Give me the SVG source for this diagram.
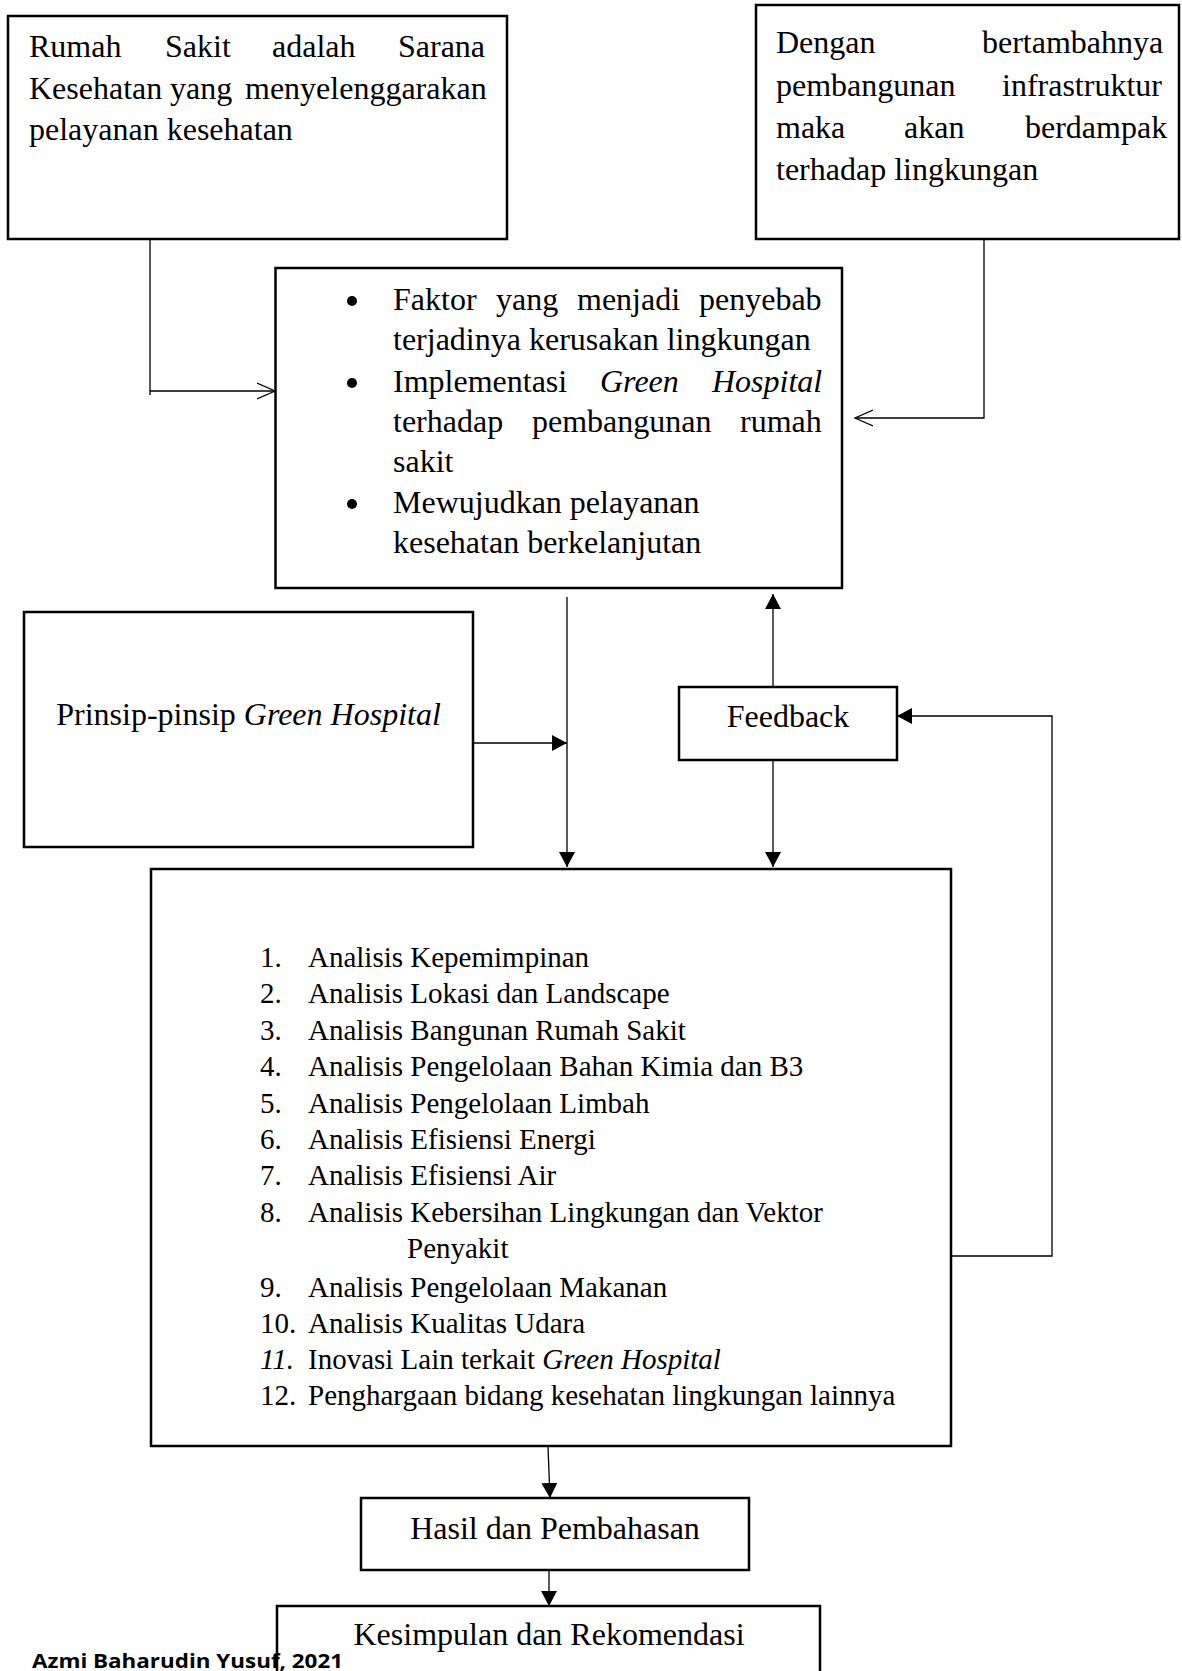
<svg xmlns="http://www.w3.org/2000/svg" width="1182" height="1671" viewBox="0 0 1182 1671">
<style>
.box{fill:#fff;stroke:#000;stroke-width:2.5}
.t{font-family:"Times New Roman","Liberation Serif",Tinos,serif;font-size:32px;fill:#000}
.l{font-family:"Times New Roman","Liberation Serif",Tinos,serif;font-size:29px;fill:#000}
.i{font-style:italic}
.c{text-anchor:middle}
.con{fill:none;stroke:#000;stroke-width:1.3}
.ft{font-family:"Open Sans","Noto Sans",sans-serif;font-weight:bold;font-size:20px;fill:#000}
</style>
<defs>
<marker id="fa" markerUnits="userSpaceOnUse" markerWidth="16" markerHeight="16" refX="15" refY="8" orient="auto">
<path d="M0,0 L15,8 L0,16 Z" fill="#000"/>
</marker>
<marker id="oa" markerUnits="userSpaceOnUse" markerWidth="20" markerHeight="20" refX="18" refY="9" orient="auto">
<path d="M0,1 L18,9 L0,17" fill="none" stroke="#000" stroke-width="1.3"/>
</marker>
</defs>

<g id="connectors">
<path class="con" d="M150,239 V395"/>
<path class="con" d="M150,391 H275" marker-end="url(#oa)"/>
<path class="con" d="M984,239 V418 H855" marker-end="url(#oa)"/>
<path class="con" d="M567,597 V867" marker-end="url(#fa)"/>
<path class="con" d="M473,743 H567" marker-end="url(#fa)"/>
<path class="con" d="M773,687 V594" marker-end="url(#fa)"/>
<path class="con" d="M773,760 V867" marker-end="url(#fa)"/>
<path class="con" d="M951,1256 H1052 V716 H897" marker-end="url(#fa)"/>
<path class="con" d="M548,1447 L550,1498" marker-end="url(#fa)"/>
<path class="con" d="M549,1571 V1606" marker-end="url(#fa)"/>
</g>

<g id="node-rumah-sakit">
<rect class="box" x="8" y="16" width="499" height="223"/>
<text class="t" y="57"><tspan x="29">Rumah</tspan><tspan x="165">Sakit</tspan><tspan x="272">adalah</tspan><tspan x="398">Sarana</tspan></text>
<text class="t" y="99"><tspan x="29">Kesehatan</tspan><tspan x="170">yang</tspan><tspan x="245">menyelenggarakan</tspan></text>
<text class="t" x="29" y="140">pelayanan kesehatan</text>
</g>

<g id="node-infrastruktur">
<rect class="box" x="756" y="5" width="423" height="234"/>
<text class="t" y="53"><tspan x="776">Dengan</tspan><tspan x="982">bertambahnya</tspan></text>
<text class="t" y="96"><tspan x="776">pembangunan</tspan><tspan x="1002">infrastruktur</tspan></text>
<text class="t" y="138"><tspan x="776">maka</tspan><tspan x="904">akan</tspan><tspan x="1025">berdampak</tspan></text>
<text class="t" x="776" y="180">terhadap lingkungan</text>
</g>

<g id="node-tujuan">
<rect class="box" x="275.5" y="268" width="566.5" height="320"/>
<circle cx="352" cy="301" r="5"/>
<circle cx="352" cy="383" r="5"/>
<circle cx="352" cy="504" r="5"/>
<text class="t" y="310"><tspan x="393">Faktor</tspan><tspan x="496">yang</tspan><tspan x="577">menjadi</tspan><tspan x="699">penyebab</tspan></text>
<text class="t" x="393" y="350">terjadinya kerusakan lingkungan</text>
<text class="t" y="392"><tspan x="393">Implementasi</tspan><tspan class="i" x="600">Green</tspan><tspan class="i" x="712">Hospital</tspan></text>
<text class="t" y="432"><tspan x="393">terhadap</tspan><tspan x="532">pembangunan</tspan><tspan x="740">rumah</tspan></text>
<text class="t" x="393" y="472">sakit</text>
<text class="t" x="393" y="513">Mewujudkan pelayanan</text>
<text class="t" x="393" y="553">kesehatan berkelanjutan</text>
</g>

<g id="node-prinsip">
<rect class="box" x="24" y="612" width="449" height="235"/>
<text class="t c" x="248.5" y="725">Prinsip-pinsip <tspan class="i">Green Hospital</tspan></text>
</g>

<g id="node-feedback">
<rect class="box" x="679" y="687" width="218" height="73"/>
<text class="t c" x="788" y="727">Feedback</text>
</g>

<g id="node-analisis">
<rect class="box" x="151" y="869" width="800" height="577"/>
<text class="l" x="260" y="967">1.</text><text class="l" x="308" y="967">Analisis Kepemimpinan</text>
<text class="l" x="260" y="1003">2.</text><text class="l" x="308" y="1003">Analisis Lokasi dan Landscape</text>
<text class="l" x="260" y="1040">3.</text><text class="l" x="308" y="1040">Analisis Bangunan Rumah Sakit</text>
<text class="l" x="260" y="1076">4.</text><text class="l" x="308" y="1076">Analisis Pengelolaan Bahan Kimia dan B3</text>
<text class="l" x="260" y="1113">5.</text><text class="l" x="308" y="1113">Analisis Pengelolaan Limbah</text>
<text class="l" x="260" y="1149">6.</text><text class="l" x="308" y="1149">Analisis Efisiensi Energi</text>
<text class="l" x="260" y="1185">7.</text><text class="l" x="308" y="1185">Analisis Efisiensi Air</text>
<text class="l" x="260" y="1222">8.</text><text class="l" x="308" y="1222">Analisis Kebersihan Lingkungan dan Vektor</text>
<text class="l" x="407" y="1258">Penyakit</text>
<text class="l" x="260" y="1297">9.</text><text class="l" x="308" y="1297">Analisis Pengelolaan Makanan</text>
<text class="l" x="260" y="1333">10.</text><text class="l" x="308" y="1333">Analisis Kualitas Udara</text>
<text class="l i" x="260" y="1369">11.</text><text class="l" x="308" y="1369">Inovasi Lain terkait <tspan class="i">Green Hospital</tspan></text>
<text class="l" x="260" y="1405">12.</text><text class="l" x="308" y="1405">Penghargaan bidang kesehatan lingkungan lainnya</text>
</g>

<g id="node-hasil">
<rect class="box" x="361" y="1498" width="388" height="72"/>
<text class="t c" x="555" y="1539">Hasil dan Pembahasan</text>
</g>

<g id="node-kesimpulan">
<rect class="box" x="277" y="1606" width="543" height="90"/>
<text class="t c" x="549" y="1645">Kesimpulan dan Rekomendasi</text>
</g>

<text class="ft" x="32" y="1668" textLength="311" lengthAdjust="spacingAndGlyphs">Azmi Baharudin Yusuf, 2021</text>
</svg>
